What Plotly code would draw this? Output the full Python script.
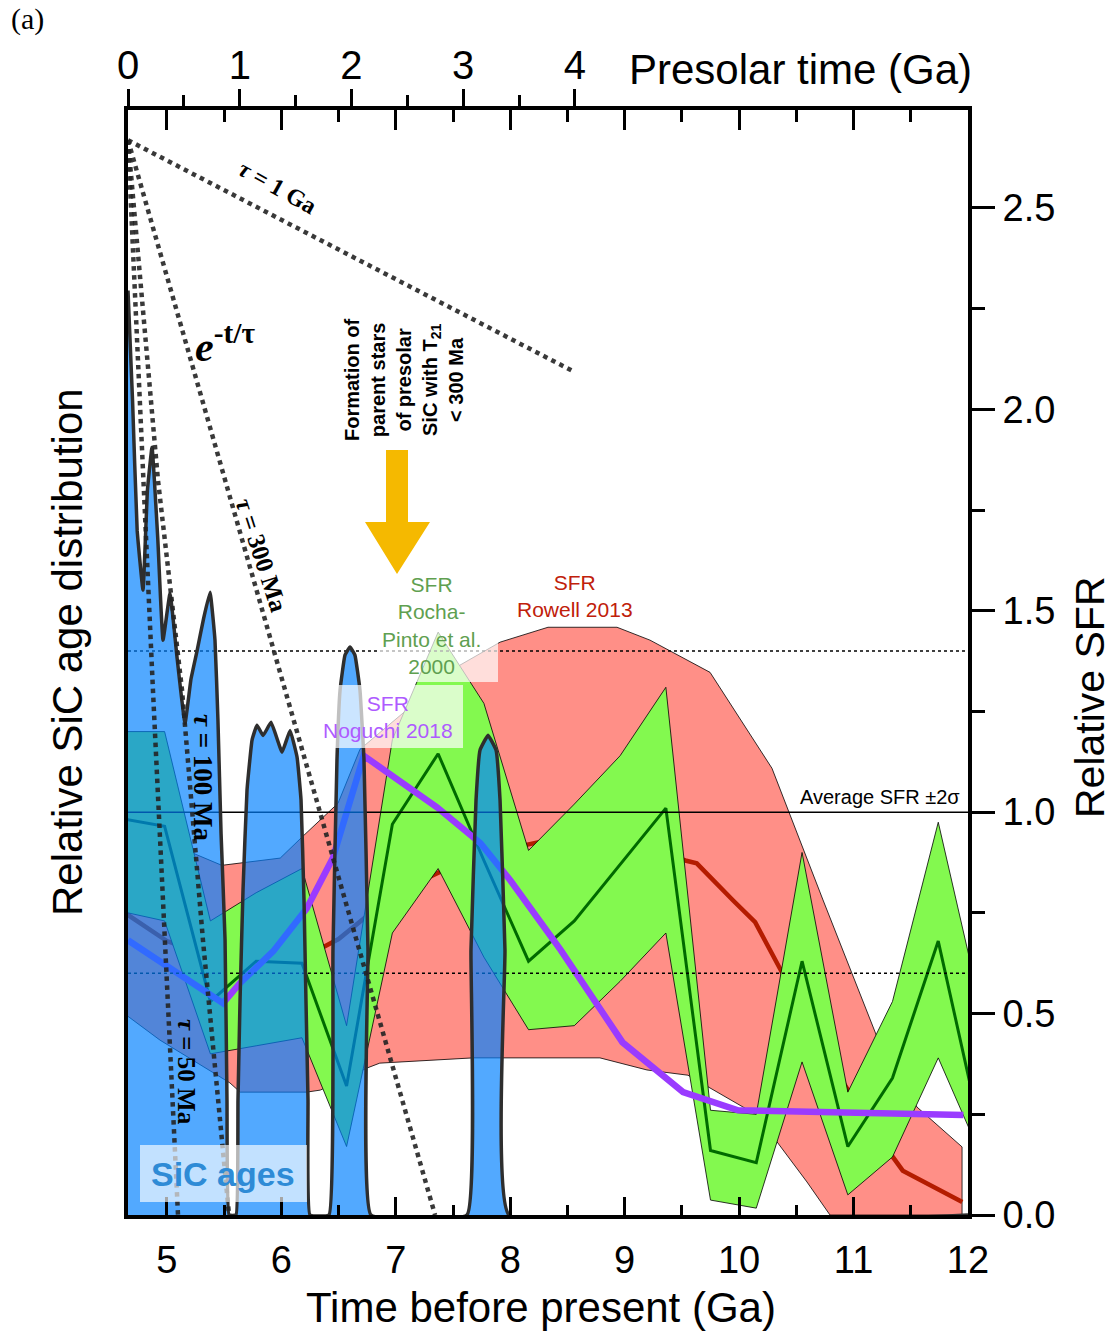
import plotly.graph_objects as go

# ---------------- data ----------------
# SiC age distribution (relative, plotted on the SFR scale)
sic_t = [4.66, 4.70, 4.74, 4.791, 4.83, 4.87, 4.92, 4.966, 5.027, 5.09, 5.158, 5.21, 5.263, 5.32,
         5.377, 5.42, 5.446, 5.473, 5.508, 5.525, 5.543, 5.604, 5.621, 5.639, 5.665, 5.70, 5.744,
         5.787, 5.84, 5.91, 6.006, 6.076, 6.137, 6.172, 6.198, 6.215, 6.233, 6.25, 6.416, 6.451,
         6.486, 6.513, 6.556, 6.6, 6.643, 6.687, 6.722, 6.757, 6.783, 7.622, 7.657, 7.701, 7.736,
         7.806, 7.876, 7.911, 7.954, 7.989, 12.0]
sic_v = [2.295, 2.02, 1.70, 1.551, 1.80, 1.906, 1.68, 1.427, 1.543, 1.38, 1.22, 1.33, 1.40, 1.48,
         1.546, 1.427, 1.228, 0.948, 0.684, 0.285, 0.0, 0.0, 0.285, 0.534, 0.806, 1.055, 1.179,
         1.216, 1.19, 1.223, 1.149, 1.203, 1.137, 1.03, 0.782, 0.534, 0.285, 0.0, 0.0, 0.658,
         1.13, 1.303, 1.39, 1.41, 1.39, 1.303, 1.13, 0.658, 0.0, 0.0, 0.658, 1.03, 1.154,
         1.191, 1.154, 1.03, 0.658, 0.0, 0.0]

# SFR Rocha-Pinto et al. 2000
rp_t = [4.58, 4.98, 5.38, 5.78, 6.18, 6.57, 6.97, 7.37, 7.77, 8.16, 8.56, 8.96, 9.36, 9.75,
        10.15, 10.55, 10.95, 11.34, 11.74, 12.14]
rp_mid = [0.985, 0.965, 0.53, 0.63, 0.625, 0.32, 0.97, 1.145, 0.88, 0.63, 0.73, 0.87, 1.01, 0.16,
          0.13, 0.63, 0.17, 0.34, 0.68, 0.17]
rp_hi = [1.2, 1.2, 0.73, 0.80, 0.86, 0.47, 1.18, 1.447, 1.27, 0.905, 1.02, 1.14, 1.31, 0.26,
         0.25, 0.90, 0.305, 0.53, 0.975, 0.48]
rp_lo = [0.755, 0.73, 0.40, 0.42, 0.44, 0.17, 0.70, 0.86, 0.64, 0.46, 0.47, 0.58, 0.70, 0.037,
         0.017, 0.38, 0.05, 0.144, 0.39, 0.13]

# SFR Rowell 2013
row_hi_t = [4.58, 5.23, 5.48, 5.99, 6.18, 6.495, 6.687, 7.561, 7.911, 8.33, 8.933, 9.221, 9.746,
            10.287, 10.733, 11.205, 11.554, 11.948]
row_hi = [0.86, 0.898, 0.868, 0.886, 0.938, 1.022, 1.156, 1.365, 1.422, 1.459, 1.459, 1.427, 1.347,
          1.109, 0.782, 0.442, 0.268, 0.169]
row_lo_t = [4.58, 4.94, 5.55, 5.64, 6.22, 6.34, 6.75, 6.86, 7.675, 8.784, 9.195, 9.553, 10.156,
            10.593, 10.794, 11.948]
row_lo = [0.51, 0.434, 0.328, 0.305, 0.305, 0.31, 0.365, 0.377, 0.39, 0.39, 0.36, 0.347, 0.248,
          0.082, 0.0, 0.0]
row_mid_t = [4.58, 5.0, 5.6, 6.2, 6.5, 7.0, 7.6, 8.16, 8.57, 9.0, 9.53, 9.63, 9.95, 10.14, 10.36,
             10.75, 11.2, 11.345, 11.43, 11.95]
row_mid = [0.76, 0.68, 0.62, 0.64, 0.685, 0.80, 0.88, 0.92, 0.945, 0.93, 0.88, 0.873, 0.78, 0.727,
           0.61, 0.40, 0.20, 0.144, 0.11, 0.032]

# SFR Noguchi 2018
nog_t = [4.66, 5.49, 5.64, 5.93, 6.22, 6.45, 6.72, 7.36, 7.74, 8.0, 8.44, 8.98, 9.51, 9.99, 11.96]
nog_v = [0.682, 0.526, 0.576, 0.655, 0.76, 0.886, 1.14, 1.012, 0.923, 0.831, 0.658, 0.429, 0.305,
         0.26, 0.248]

# exponential decay guides e^(-t/tau)
tau1_t, tau1_v = [4.66, 8.566], [2.668, 2.092]
tau300_t, tau300_v = [4.66, 5.551, 7.343], [2.668, 1.782, 0.0]
tau100_t, tau100_v = [4.66, 4.922, 5.132, 5.315, 5.543], [2.668, 1.824, 1.303, 0.682, 0.0]
tau50_t, tau50_v = [4.66, 4.878, 5.097], [2.668, 1.303, 0.0]

# reference SFR levels
avg_sfr, sfr_lo2s, sfr_hi2s = 1.0, 0.6, 1.4

# axes ticks
bottom_ticks = [5, 6, 7, 8, 9, 10, 11, 12]
bottom_minor = [5.5, 6.5, 7.5, 8.5, 9.5, 10.5, 11.5]
top_ticks = [0, 1, 2, 3, 4]
top_minor = [0.5, 1.5, 2.5, 3.5]
sfr_ticks = [0, 0.5, 1.0, 1.5, 2.0, 2.5]
sfr_ticktext = ["0.0", "0.5", "1.0", "1.5", "2.0", "2.5"]
sfr_minor = [0.25, 0.75, 1.25, 1.75, 2.25]

# ---------------- geometry helpers (layout only) ----------------
XR = [4.66, 12.0]
YR = [0.0, 2.743]
TOPR = [0, 7.517]
PL, PR, PT, PB = 128, 968, 110, 1215


def X(px):
    return XR[0] + (px - PL) * (XR[1] - XR[0]) / (PR - PL)


def Y(py):
    return YR[0] + (PB - py) * (YR[1] - YR[0]) / (PB - PT)


def PX(px):
    return (px - PL) / (PR - PL)


def PY(py):
    return (PB - py) / (PB - PT)


SANS = "Liberation Sans, Arial, Helvetica, sans-serif"
SERIF = "Liberation Serif, Times New Roman, serif"

fig = go.Figure()

# Rowell band
fig.add_trace(go.Scatter(x=row_hi_t + row_lo_t[::-1], y=row_hi + row_lo[::-1], mode="lines",
                         fill="toself", fillcolor="#FF8F87",
                         line=dict(color="black", width=0.8), hoverinfo="skip"))
fig.add_trace(go.Scatter(x=row_mid_t, y=row_mid, mode="lines",
                         line=dict(color="#B41C00", width=4.5), hoverinfo="skip"))
# Rocha-Pinto band
fig.add_trace(go.Scatter(x=rp_t + rp_t[::-1], y=rp_hi + rp_lo[::-1], mode="lines",
                         fill="toself", fillcolor="#83F94F",
                         line=dict(color="black", width=0.8), hoverinfo="skip"))
fig.add_trace(go.Scatter(x=rp_t, y=rp_mid, mode="lines",
                         line=dict(color="#006A00", width=3), hoverinfo="skip"))
# Noguchi
fig.add_trace(go.Scatter(x=nog_t, y=nog_v, mode="lines",
                         line=dict(color="#9A3BFF", width=6.5), hoverinfo="skip"))
# reference lines
fig.add_trace(go.Scatter(x=XR, y=[avg_sfr, avg_sfr], mode="lines",
                         line=dict(color="black", width=1.5), hoverinfo="skip"))
for lv in (sfr_hi2s, sfr_lo2s):
    fig.add_trace(go.Scatter(x=XR, y=[lv, lv], mode="lines",
                             line=dict(color="black", width=1.4, dash="3px,3px"), hoverinfo="skip"))
# SiC ages
fig.add_trace(go.Scatter(x=sic_t, y=sic_v, mode="lines", fill="tozeroy",
                         fillcolor="rgba(0,128,255,0.68)",
                         line=dict(color="#2E2E2E", width=3.5, shape="spline", smoothing=0.3),
                         hoverinfo="skip"))
# tau guides
for tt, vv in ((tau1_t, tau1_v), (tau300_t, tau300_v), (tau100_t, tau100_v), (tau50_t, tau50_v)):
    fig.add_trace(go.Scatter(x=tt, y=vv, mode="lines",
                             line=dict(color="rgba(35,35,35,0.9)", width=4.5, dash="dot"),
                             hoverinfo="skip"))
# dummy traces to activate the top axes
fig.add_trace(go.Scatter(x=[TOPR[0]], y=[None], xaxis="x2", yaxis="y", showlegend=False, hoverinfo="skip"))
fig.add_trace(go.Scatter(x=[XR[0]], y=[None], xaxis="x3", yaxis="y", showlegend=False, hoverinfo="skip"))

shapes = [
    # label backgrounds
    dict(type="rect", xref="x", yref="y", x0=X(318), x1=X(463), y0=Y(748), y1=Y(685),
         fillcolor="rgba(255,255,255,0.7)", line=dict(width=0), layer="above"),
    dict(type="rect", xref="x", yref="y", x0=X(378), x1=X(498), y0=Y(682), y1=Y(576),
         fillcolor="rgba(255,255,255,0.7)", line=dict(width=0), layer="above"),
    dict(type="rect", xref="x", yref="y", x0=X(140), x1=X(307), y0=Y(1202), y1=Y(1145),
         fillcolor="rgba(255,255,255,0.65)", line=dict(width=0), layer="above"),
    # yellow arrow
    dict(type="path", xref="x", yref="y", layer="above",
         path=(f"M {X(386)},{Y(450)} L {X(408)},{Y(450)} L {X(408)},{Y(522)} L {X(430)},{Y(522)} "
               f"L {X(397)},{Y(574)} L {X(365)},{Y(522)} L {X(386)},{Y(522)} Z"),
         fillcolor="#F5B900", line=dict(width=0)),
]

ann = []


def A(text, x, y, size, color="black", family=SANS, angle=0, xref="x", yref="y",
      xanchor="center", yanchor="middle", align="center"):
    ann.append(dict(text=text, x=x, y=y, xref=xref, yref=yref, showarrow=False,
                    font=dict(size=size, color=color, family=family), textangle=angle,
                    xanchor=xanchor, yanchor=yanchor, align=align))


A("SFR<br>Rowell 2013", X(575), Y(596), 21, "#C0200A")
A("SFR<br>Rocha-<br>Pinto et al.<br>2000", X(431), Y(625), 21, "#5FA050")
A("SFR<br>Noguchi 2018", X(388), Y(717), 21, "#AE5BFF")
A("Average SFR ±2σ", X(962), Y(797), 20, xanchor="right")
A("<b>Formation of<br>parent stars<br>of presolar<br>SiC with T<sub>21</sub><br>&lt; 300 Ma</b>",
  X(404), Y(380), 20, angle=-90)
A("<b>SiC ages</b>", X(223), Y(1174), 34, "#2E8BD6")
A("<b><i>e</i><sup>-t/τ</sup></b>", X(225), Y(343), 42, family=SERIF)
A("<b><i>τ</i> = 1 Ga</b>", X(277), Y(187), 24, family=SERIF, angle=29)
A("<b><i>τ</i> = 300 Ma</b>", X(262), Y(555), 25, family=SERIF, angle=72)
A("<b><i>τ</i> = 100 Ma</b>", X(203), Y(778), 27, family=SERIF, angle=90)
A("<b><i>τ</i> = 50 Ma</b>", X(187), Y(1072), 25, family=SERIF, angle=90)
# titles
A("Presolar time (Ga)", PX(627), PY(70), 42, xref="paper", yref="paper", xanchor="left")
A("Time before present (Ga)", PX(541), PY(1307), 42, xref="paper", yref="paper")
A("Relative SiC age distribution", PX(67), PY(652), 42, xref="paper", yref="paper", angle=-90)
A("Relative SFR", PX(1090), PY(697), 41, xref="paper", yref="paper", angle=-90)
A("(a)", PX(27), PY(19), 30, family=SERIF, xref="paper", yref="paper")

fig.update_layout(
    width=1112, height=1331,
    margin=dict(l=PL, r=1112 - PR, t=PT, b=1331 - PB, pad=0),
    plot_bgcolor="white", paper_bgcolor="white", showlegend=False,
    font=dict(family=SANS, color="black"),
    xaxis=dict(range=XR, showgrid=False, zeroline=False, showline=True, linecolor="black",
               linewidth=4, ticks="inside", tickmode="array", tickvals=bottom_ticks,
               ticklen=18, tickwidth=3, tickcolor="black", tickfont=dict(size=38),
               ticklabelstandoff=8,
               minor=dict(tickmode="array", tickvals=bottom_minor, ticks="inside",
                          ticklen=10, tickwidth=3, tickcolor="black")),
    xaxis2=dict(range=TOPR, overlaying="x", side="top", anchor="y", showgrid=False,
                zeroline=False, showline=True, linecolor="black", linewidth=4,
                ticks="outside", tickmode="array", tickvals=top_ticks, ticklen=17,
                tickwidth=3, tickcolor="black", tickfont=dict(size=40),
                ticklabelstandoff=-6,
                minor=dict(tickmode="array", tickvals=top_minor, ticks="outside",
                           ticklen=11, tickwidth=3, tickcolor="black")),
    xaxis3=dict(range=XR, overlaying="x", side="top", anchor="y", showgrid=False,
                zeroline=False, showline=False, ticks="inside", tickmode="array",
                tickvals=bottom_ticks, ticklen=20, tickwidth=3, tickcolor="black",
                showticklabels=False,
                minor=dict(tickmode="array", tickvals=bottom_minor, ticks="inside",
                           ticklen=12, tickwidth=3, tickcolor="black")),
    yaxis=dict(range=YR, side="right", showgrid=False, zeroline=False, showline=True,
               mirror=True, linecolor="black", linewidth=4, ticks="outside",
               tickmode="array", tickvals=sfr_ticks, ticktext=sfr_ticktext, ticklen=23,
               tickwidth=3, tickcolor="black", tickfont=dict(size=38),
               minor=dict(tickmode="array", tickvals=sfr_minor, ticks="outside",
                          ticklen=13, tickwidth=3, tickcolor="black")),
    shapes=shapes,
    annotations=ann,
)

fig.write_html("out.html")
